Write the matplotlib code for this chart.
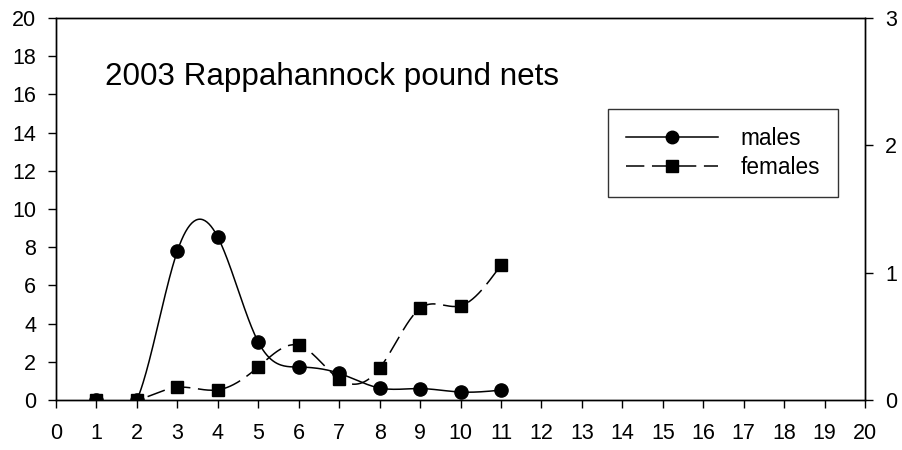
import numpy as np
import matplotlib.pyplot as plt

plt.rcParams['font.family'] = ['Liberation Sans', 'DejaVu Sans']

# catch by age
ages = [1, 2, 3, 4, 5, 6, 7, 8, 9, 10, 11]
males = [0.0, 0.0, 7.8, 8.53, 3.04, 1.73, 1.4, 0.63, 0.6, 0.42, 0.52]
# females go on the right-hand axis
females = [0.0, 0.0, 0.10, 0.08, 0.26, 0.43, 0.165, 0.25, 0.72, 0.74, 1.06]

title = "2003 Rappahannock pound nets"


def natural_spline(x, y, n=400):
    x = np.asarray(x, float)
    y = np.asarray(y, float)
    k = len(x)
    h = np.diff(x)
    A = np.zeros((k, k))
    b = np.zeros(k)
    A[0, 0] = A[-1, -1] = 1
    for i in range(1, k - 1):
        A[i, i - 1] = h[i - 1]
        A[i, i] = 2 * (h[i - 1] + h[i])
        A[i, i + 1] = h[i]
        b[i] = 3 * ((y[i + 1] - y[i]) / h[i] - (y[i] - y[i - 1]) / h[i - 1])
    c = np.linalg.solve(A, b)
    xs = np.linspace(x[0], x[-1], n)
    idx = np.clip(np.searchsorted(x, xs) - 1, 0, k - 2)
    dx = xs - x[idx]
    hi = h[idx]
    bi = (y[idx + 1] - y[idx]) / hi - hi * (2 * c[idx] + c[idx + 1]) / 3
    di = (c[idx + 1] - c[idx]) / (3 * hi)
    ys = y[idx] + bi * dx + c[idx] * dx ** 2 + di * dx ** 3
    return xs, ys


fig, ax = plt.subplots(figsize=(9.03, 4.5), dpi=100)
fig.subplots_adjust(left=0.062, right=0.958, top=0.96, bottom=0.111)
ax2 = ax.twinx()

dash = (12, 5)

mx, my = natural_spline(ages, males)
ax.plot(mx, my, color='black', lw=1.1)
ax.plot(ages, males, 'o', color='black', ms=9.5)
ax.plot([], [], '-o', color='black', lw=1.1, ms=9, label='males')

fx, fy = natural_spline(ages, females)
ax2.plot(fx, fy, color='black', lw=1.1, dashes=dash)
ax2.plot(ages, females, 's', color='black', ms=9)
ax.plot([], [], 's', color='black', ls=(0, dash), lw=1.1, ms=8, label='females')

ax.set_xlim(0, 20)
ax.set_ylim(0, 20)
ax2.set_ylim(0, 3)
ax.set_xticks(range(0, 21))
ax.set_yticks(range(0, 21, 2))
ax2.set_yticks([0, 1, 2, 3])

for a in (ax, ax2):
    a.tick_params(direction='out', length=5.8, width=1, labelsize=15.5, pad=8.5)
    for s in a.spines.values():
        s.set_linewidth(1)
ax.tick_params(axis='x', pad=10.5)

ax.text(1.2, 16.5, title, fontsize=22.6)

leg = ax.legend(loc='upper left', bbox_to_anchor=(0.682, 0.762), frameon=True,
                fancybox=False, edgecolor='black', fontsize=16.3,
                handlelength=4.05, borderpad=0.8, labelspacing=0.26,
                handletextpad=1.0, borderaxespad=0)
leg.get_frame().set_linewidth(1)

fig.savefig('out.png', dpi=100)
